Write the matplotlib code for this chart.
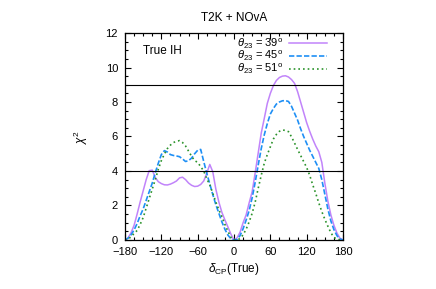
import numpy as np
import matplotlib
matplotlib.use("Agg")
import matplotlib.pyplot as plt
from matplotlib.ticker import MultipleLocator

plt.rcParams['font.family'] = ['Liberation Sans', 'DejaVu Sans']
plt.rcParams['mathtext.fontset'] = 'custom'
plt.rcParams['mathtext.rm'] = 'Liberation Sans'
plt.rcParams['mathtext.it'] = 'Liberation Sans:italic'

# delta_CP (true) grid, degrees
delta_cp = list(range(-180, 181, 5))

# chi^2 for theta23 = 39 deg
chi2_39 = [0.0, 0.12, 0.42, 0.85, 1.5, 2.2, 2.85, 3.5, 4.02, 4.05, 3.62, 3.38, 3.27,
           3.2, 3.19, 3.24, 3.32, 3.42, 3.6, 3.64, 3.5, 3.3, 3.17, 3.1, 3.12, 3.22,
           3.42, 3.87, 4.38, 3.95, 2.95, 2.2, 1.6, 1.16, 0.75, 0.33, 0.0,
           0.12, 0.45, 1.0, 1.45, 2.15, 2.8, 3.9, 5.05, 6.2, 7.05, 7.92, 8.5,
           8.95, 9.25, 9.42, 9.5, 9.52, 9.45, 9.3, 9.08, 8.6, 8.0, 7.4, 6.8,
           6.3, 5.85, 5.45, 5.12, 4.5, 3.3, 2.25, 1.45, 0.85, 0.4, 0.1, 0.0]

# chi^2 for theta23 = 45 deg
chi2_45 = [0.0, 0.1, 0.3, 0.58, 0.95, 1.4, 1.8, 2.3, 2.8, 3.3, 3.9, 4.45, 4.95,
           5.18, 5.1, 4.95, 4.9, 4.87, 4.83, 4.7, 4.55, 4.6, 4.75, 5.0, 5.2, 5.25,
           4.55, 3.87, 3.25, 2.63, 2.05, 1.55, 1.05, 0.62, 0.28, 0.07, 0.0,
           0.03, 0.25, 0.65, 1.15, 1.7, 2.45, 3.35, 4.35, 5.3, 6.1, 6.75, 7.3,
           7.62, 7.88, 8.0, 8.07, 8.08, 8.03, 7.75, 7.35, 6.95, 6.45, 6.0, 5.6,
           5.2, 4.85, 4.5, 4.15, 3.5, 2.65, 1.8, 1.1, 0.6, 0.25, 0.06, 0.0]

# chi^2 for theta23 = 51 deg
chi2_51 = [0.0, 0.05, 0.18, 0.38, 0.55, 0.9, 1.3, 1.85, 2.4, 2.95, 3.5, 4.1, 4.6,
           4.98, 5.3, 5.5, 5.65, 5.72, 5.76, 5.65, 5.45, 5.15, 4.85, 4.6, 4.5, 4.25,
           4.0, 3.55, 3.2, 2.7, 2.2, 1.75, 1.35, 0.9, 0.5, 0.15, 0.0,
           0.0, 0.08, 0.3, 0.62, 1.05, 1.55, 2.2, 3.0, 3.75, 4.45, 4.95, 5.4,
           5.85, 6.12, 6.3, 6.38, 6.35, 6.28, 5.98, 5.62, 5.25, 4.9, 4.55, 4.2,
           3.75, 3.2, 2.7, 2.15, 1.65, 1.2, 0.8, 0.42, 0.15, 0.05, 0.01, 0.0]

labels = [r"$\theta_{23}$ = 39$^{\rm o}$",
          r"$\theta_{23}$ = 45$^{\rm o}$",
          r"$\theta_{23}$ = 51$^{\rm o}$"]
ref_levels = [4, 9]

fig = plt.figure(figsize=(4.36, 2.89), dpi=100)
ax = fig.add_axes([0.2867, 0.1696, 0.5, 0.7162])

ax.plot(delta_cp, chi2_39, color='#c184fa', lw=1.1, ls='-', label=labels[0])
ax.plot(delta_cp, chi2_45, color='#1e8ff5', lw=1.2, ls=(0, (3.2, 1.3)), label=labels[1])
ax.plot(delta_cp, chi2_51, color='#2a922a', lw=1.2, ls=(0, (1, 1.8)), label=labels[2])
for lev in ref_levels:
    ax.axhline(lev, color='black', lw=0.8)

ax.set_xlim(-180, 180)
ax.set_ylim(0, 12)
ax.xaxis.set_major_locator(MultipleLocator(60))
ax.xaxis.set_minor_locator(MultipleLocator(15))
ax.yaxis.set_major_locator(MultipleLocator(2))
ax.yaxis.set_minor_locator(MultipleLocator(0.5))
ax.tick_params(which='both', direction='in', top=True, right=True, labelsize=8, width=0.8)
ax.tick_params(which='major', length=4, pad=5)
ax.tick_params(which='minor', length=2)
for s in ax.spines.values():
    s.set_linewidth(0.9)

ax.set_xlabel(r"$\delta_{\rm CP}$(True)", fontsize=8.5, labelpad=3)
ax.set_ylabel(r"$\chi^2$", fontsize=8.5, labelpad=11)
ax.set_title("T2K + NOvA", fontsize=8.5, pad=9)
ax.text(-150, 10.95, "True IH", fontsize=8.5, va='center', ha='left')

leg = ax.legend(loc='upper right', bbox_to_anchor=(0.945, 1.005), frameon=False,
                markerfirst=False, fontsize=8, labelspacing=-0.12,
                handlelength=3.4, handletextpad=0.5, borderaxespad=0.0)

fig.savefig("out.png", dpi=100)
